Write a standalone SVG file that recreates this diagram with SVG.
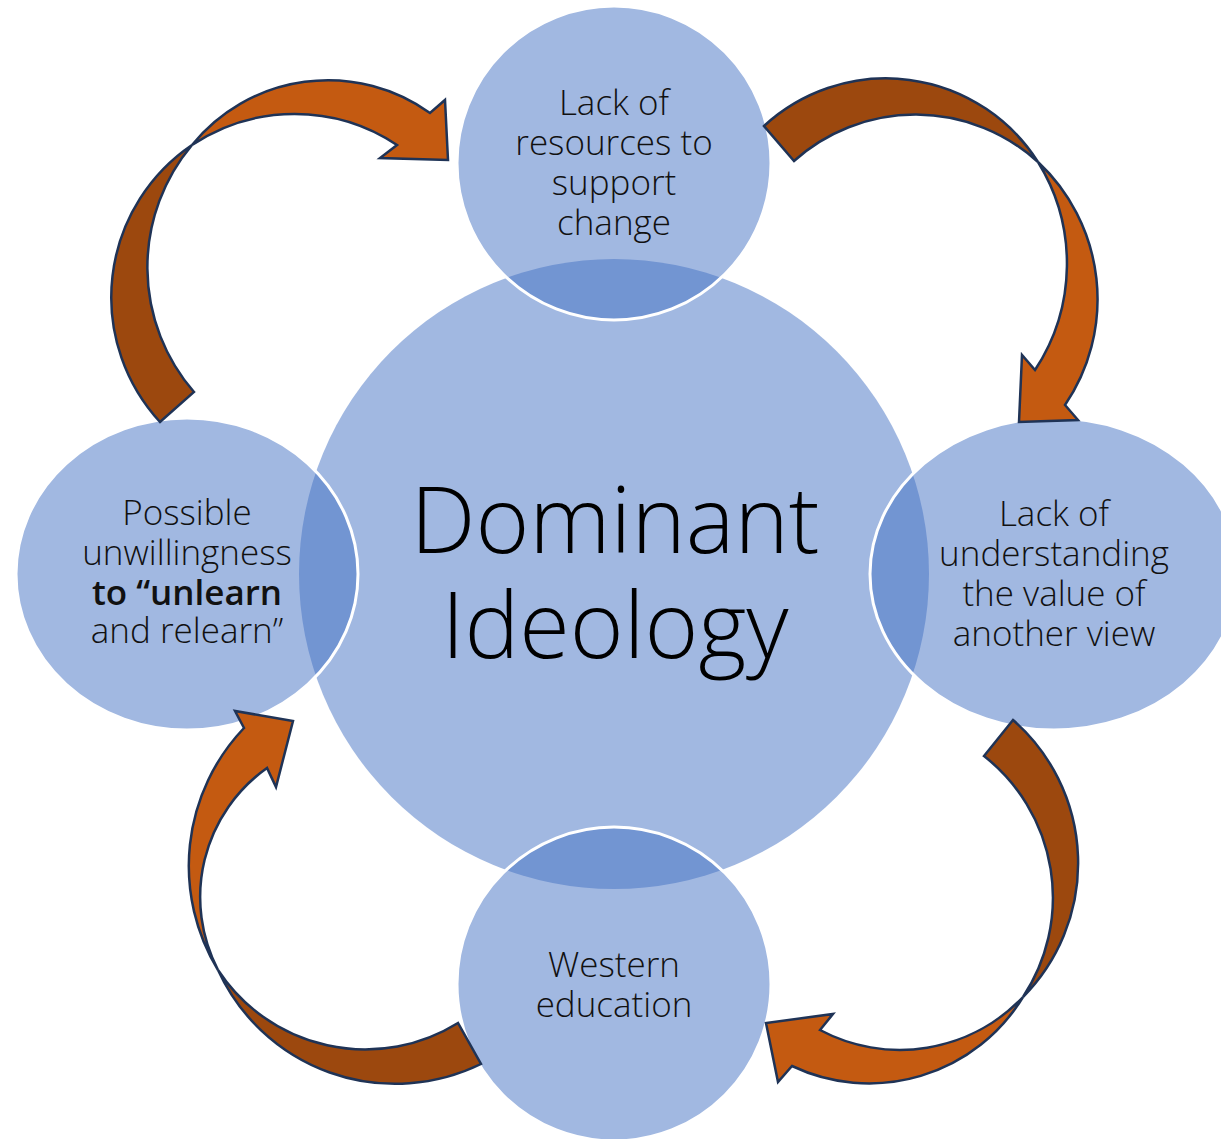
<svg xmlns="http://www.w3.org/2000/svg" width="1221" height="1139" viewBox="0 0 1221 1139">
  <style>
    .blob { fill: #4472C4; fill-opacity: 0.5; }
    .node { fill: #4472C4; fill-opacity: 0.5; stroke: #FFFFFF; stroke-width: 3; }
    .lbl { font-family: "Open Sans", "Liberation Sans", sans-serif; font-weight: 300; font-size: 35px; fill: #111111; text-anchor: middle; }
    .big { font-family: "Open Sans", "Liberation Sans", sans-serif; font-weight: 300; font-size: 92px; fill: #000000; text-anchor: middle; }
    .dark { fill: #9C480E; stroke: #1F3356; stroke-width: 2.5; stroke-linejoin: miter; }
    .light { fill: #C45A11; stroke: #1F3356; stroke-width: 2.5; stroke-linejoin: miter; }
  </style>
  <rect width="1221" height="1139" fill="#FFFFFF"/>

  <g id="node-center">
    <circle class="blob" cx="614" cy="574" r="315"/>
    <text class="big"><tspan x="615" y="553">Dominant</tspan><tspan x="615" y="658">Ideology</tspan></text>
  </g>

  <g id="node-top">
    <circle class="node" cx="614" cy="163" r="157"/>
    <text class="lbl"><tspan x="614" y="115">Lack of</tspan><tspan x="614" y="155">resources to</tspan><tspan x="614" y="195">support</tspan><tspan x="614" y="235">change</tspan></text>
  </g>

  <g id="node-right">
    <ellipse class="node" cx="1054" cy="574" rx="184" ry="156"/>
    <text class="lbl"><tspan x="1054" y="526">Lack of</tspan><tspan x="1054" y="566">understanding</tspan><tspan x="1054" y="606">the value of</tspan><tspan x="1054" y="646">another view</tspan></text>
  </g>

  <g id="node-bottom">
    <circle class="node" cx="614" cy="984" r="157"/>
    <text class="lbl"><tspan x="614" y="977">Western</tspan><tspan x="614" y="1017">education</tspan></text>
  </g>

  <g id="node-left">
    <ellipse class="node" cx="187" cy="574" rx="171" ry="156"/>
    <text class="lbl"><tspan x="187" y="525">Possible</tspan><tspan x="187" y="565">unwillingness</tspan><tspan x="187" y="605" font-weight="600">to “unlearn</tspan><tspan x="187" y="643">and relearn”</tspan></text>
  </g>

  <g id="connectors">
    <g id="arrow-left-to-top">
      <path class="dark" d="M160,422 A184,184 0 0 1 192,145 A190,190 0 0 0 194,392 Z"/>
      <path class="light" d="M192,145 A175,175 0 0 1 430,113 L445,100 L448,160 L380,158 L397,145 A185,185 0 0 0 192,145 Z"/>
    </g>
    <g id="arrow-top-to-right">
      <path class="dark" d="M764,126 A180,180 0 0 1 1038,162 A182,182 0 0 0 794,161 Z"/>
      <path class="light" d="M1038,162 A188,188 0 0 1 1065,405 L1078,420 L1019,422 L1022,355 L1035,370 A193,193 0 0 0 1038,162 Z"/>
    </g>
    <g id="arrow-right-to-bottom">
      <path class="dark" d="M1013,720 A190,190 0 0 1 1023,997 A180,180 0 0 0 984,756 Z"/>
      <path class="light" d="M1023,997 A180,180 0 0 1 792,1066 L778,1082 L766,1023 L833,1014 L820,1030 A170,170 0 0 0 1023,997 Z"/>
    </g>
    <g id="arrow-bottom-to-left">
      <path class="dark" d="M481,1064 A195,195 0 0 1 218,970 A176,176 0 0 0 458,1023 Z"/>
      <path class="light" d="M218,970 A200,200 0 0 1 244,728 L235,711 L293,721 L276,787 L267,768 A158,158 0 0 0 218,970 Z"/>
    </g>
  </g>
</svg>
